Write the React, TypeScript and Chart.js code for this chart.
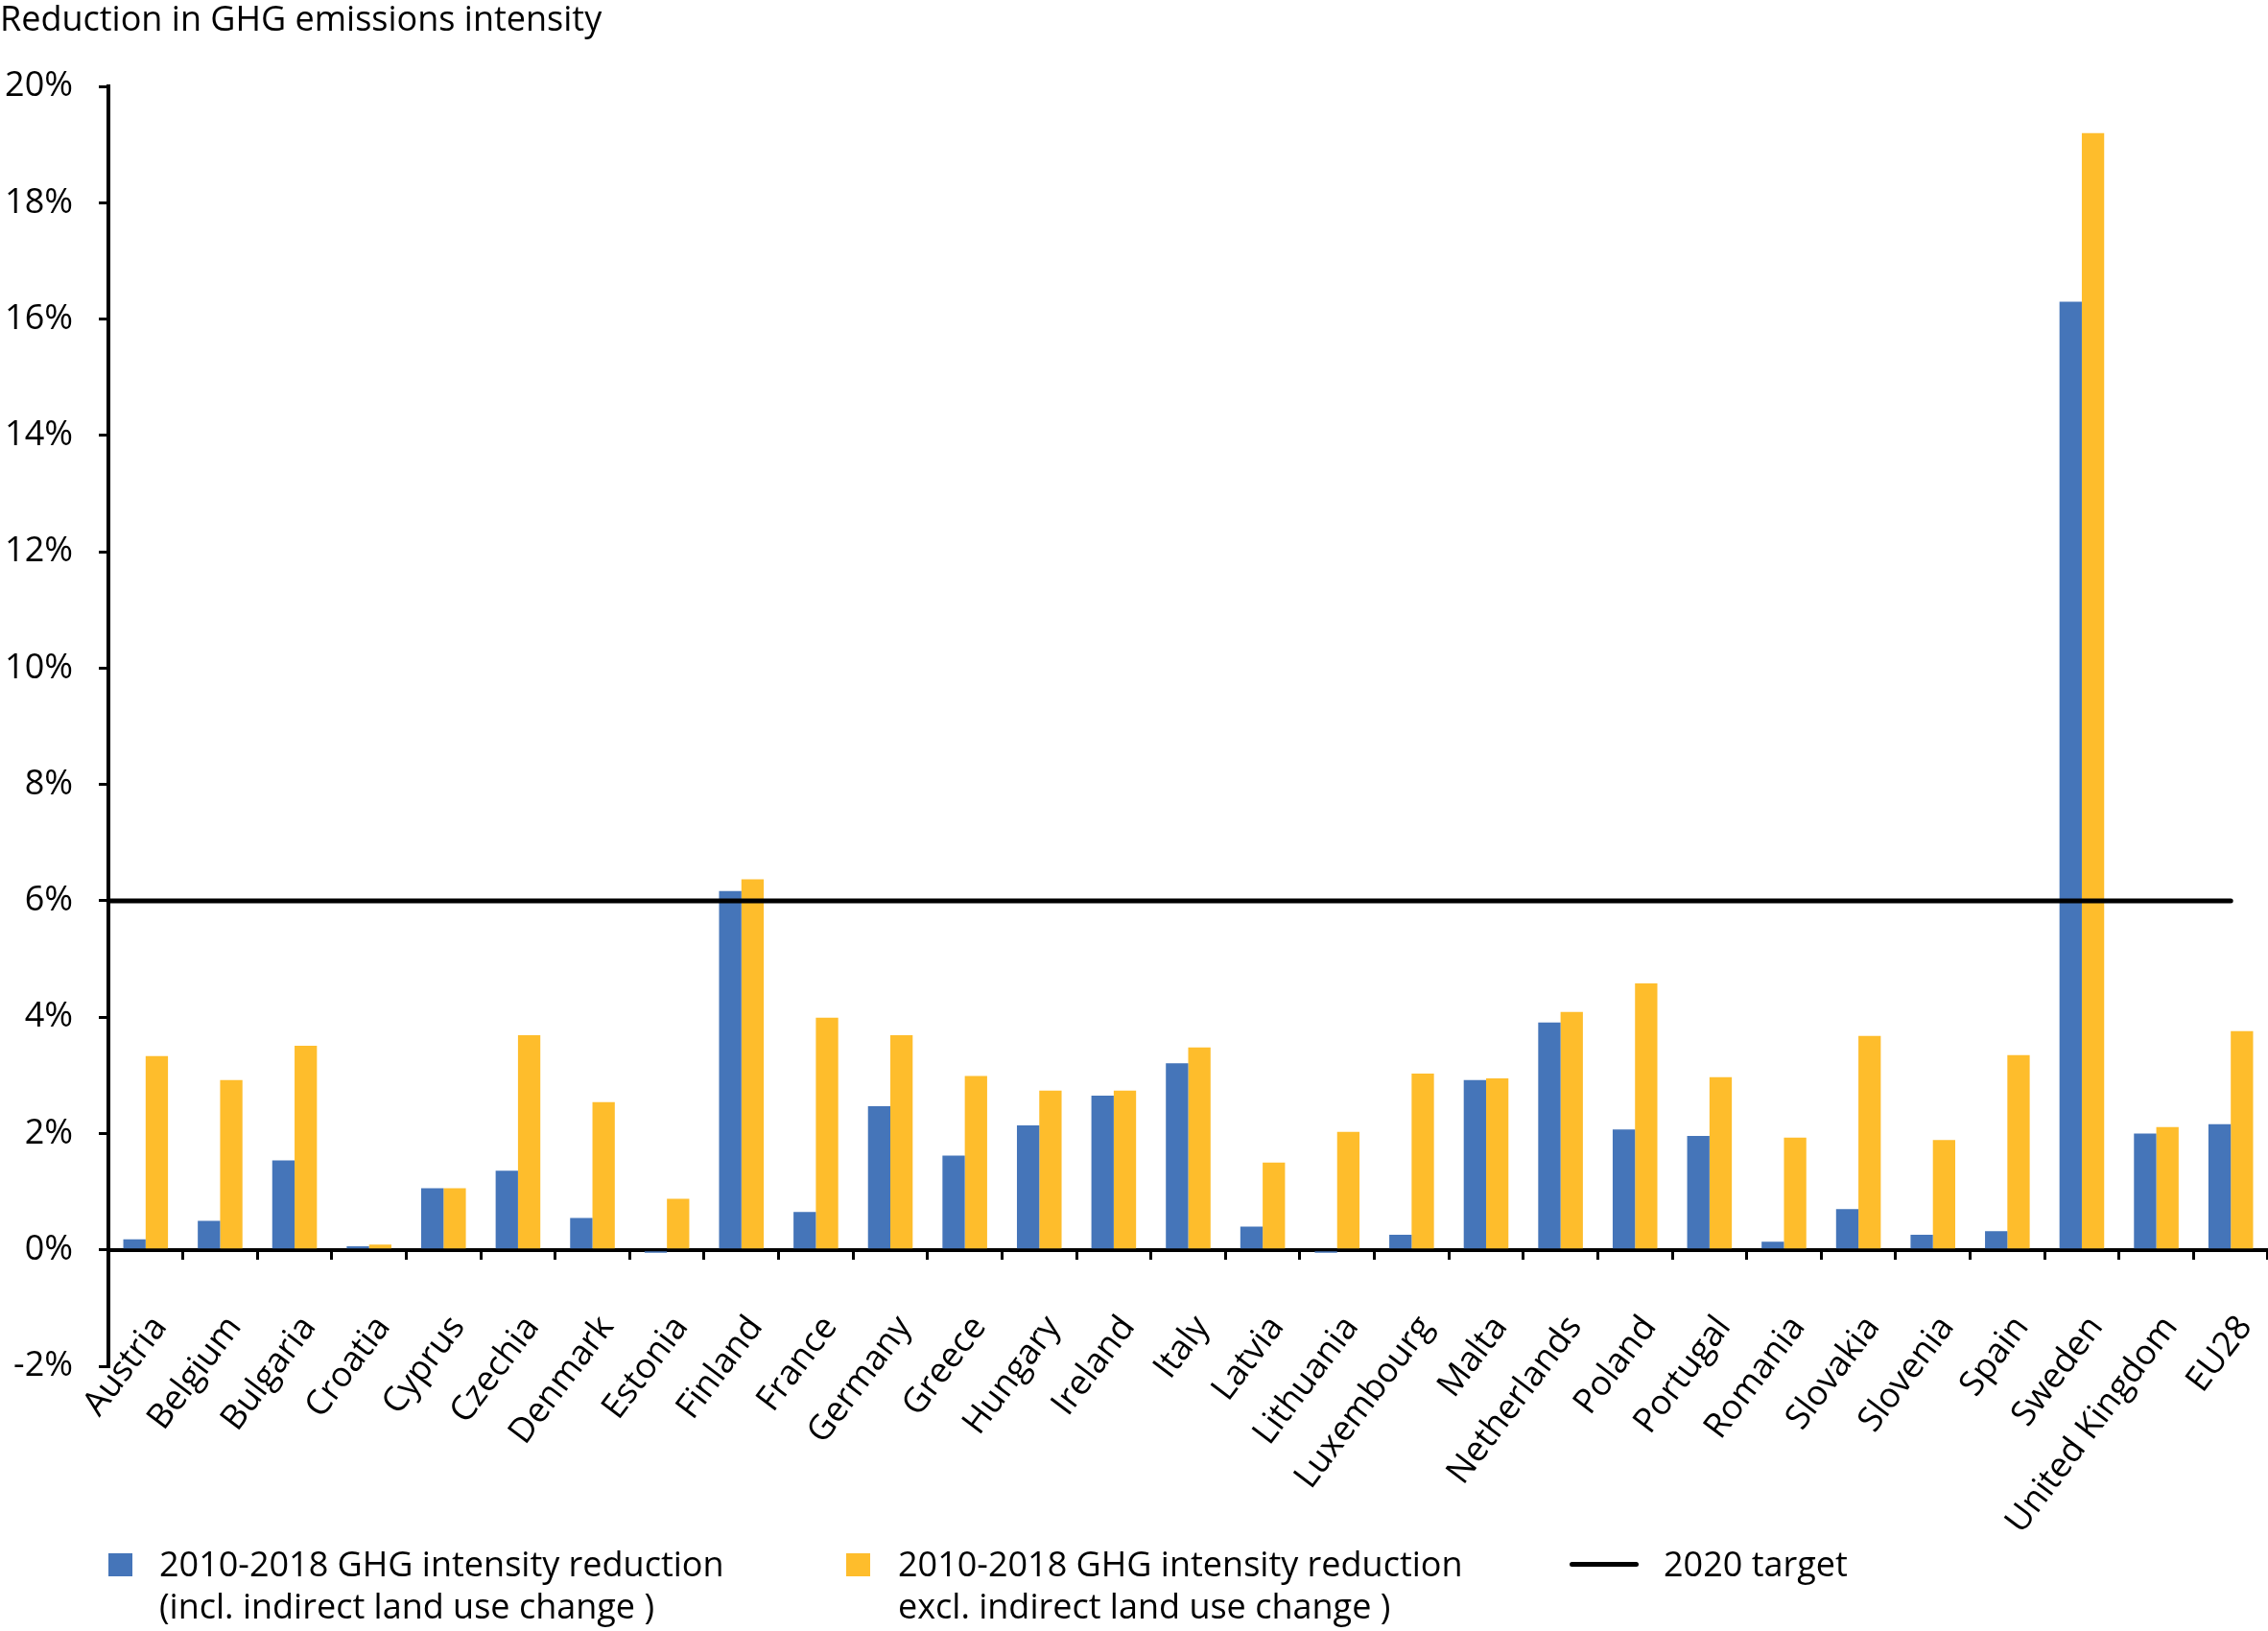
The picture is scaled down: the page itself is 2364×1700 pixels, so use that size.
import React, { useEffect, useRef } from "react";
import { Chart, registerables } from "chart.js";

Chart.register(...registerables);

const CATEGORIES = [
  "Austria", "Belgium", "Bulgaria", "Croatia", "Cyprus", "Czechia", "Denmark", "Estonia",
  "Finland", "France", "Germany", "Greece", "Hungary", "Ireland", "Italy", "Latvia",
  "Lithuania", "Luxembourg", "Malta", "Netherlands", "Poland", "Portugal", "Romania",
  "Slovakia", "Slovenia", "Spain", "Sweden", "United Kingdom", "EU28",
];

const INCL_ILUC = [
  0.18, 0.5, 1.54, 0.06, 1.06, 1.36, 0.55, -0.05, 6.17, 0.65, 2.47, 1.62, 2.14, 2.65, 3.21,
  0.4, -0.05, 0.26, 2.92, 3.91, 2.07, 1.96, 0.14, 0.7, 0.26, 0.32, 16.3, 2.0, 2.16,
];

const EXCL_ILUC = [
  3.33, 2.92, 3.51, 0.09, 1.06, 3.69, 2.54, 0.88, 6.37, 3.99, 3.69, 2.99, 2.74, 2.74, 3.48,
  1.5, 2.03, 3.03, 2.95, 4.09, 4.58, 2.97, 1.93, 3.68, 1.89, 3.35, 19.2, 2.11, 3.76,
];

const TARGET_2020 = 6;

const Y_MIN = -2;
const Y_MAX = 20;
const Y_STEP = 2;

const TITLE = "Reduction in GHG emissions intensity";
const SERIES_LABELS = [
  ["2010-2018 GHG intensity reduction", "(incl. indirect land use change )"],
  ["2010-2018 GHG intensity reduction", "excl. indirect land use change )"],
  ["2020 target"],
];

const BLUE = "#4575b9";
const YELLOW = "#febd2c";
const FONT = "'Open Sans', 'Noto Sans', sans-serif";

// Draws the 2020 target as a horizontal rule through the chart's own scales:
// from the value axis to the centre of the last category.
const targetLinePlugin = {
  id: "targetLine",
  afterDatasetsDraw(chart: any) {
    const { ctx, chartArea, scales } = chart;
    const y = scales.y.getPixelForValue(TARGET_2020);
    const xEnd = scales.x.getPixelForValue(CATEGORIES.length - 1);
    ctx.save();
    ctx.strokeStyle = "#000";
    ctx.lineWidth = 5;
    ctx.lineCap = "round";
    ctx.beginPath();
    ctx.moveTo(chartArea.left, y);
    ctx.lineTo(xEnd, y);
    ctx.stroke();
    ctx.restore();
  },
};

export default function App() {
  const canvasRef = useRef<HTMLCanvasElement | null>(null);

  useEffect(() => {
    document.body.style.margin = "0";
    const canvas = canvasRef.current;
    if (!canvas) return;
    Chart.defaults.font.family = FONT;
    Chart.defaults.color = "#000";

    const chart = new Chart(canvas, {
      type: "bar",
      data: {
        labels: CATEGORIES,
        datasets: [
          {
            label: SERIES_LABELS[0].join(" "),
            data: INCL_ILUC,
            backgroundColor: BLUE,
            borderWidth: 0,
            categoryPercentage: 0.6,
            barPercentage: 1.0,
          },
          {
            label: SERIES_LABELS[1].join(" "),
            data: EXCL_ILUC,
            backgroundColor: YELLOW,
            borderWidth: 0,
            categoryPercentage: 0.6,
            barPercentage: 1.0,
          },
        ],
      },
      plugins: [targetLinePlugin],
      options: {
        animation: false,
        responsive: true,
        maintainAspectRatio: false,
        layout: { padding: { left: 0, right: 0, top: 0, bottom: 276 } },
        plugins: {
          legend: { display: false },
          tooltip: { enabled: false },
          title: {
            display: true,
            text: TITLE,
            align: "start",
            color: "#000",
            font: { size: 36, weight: "normal", family: FONT },
            padding: { top: 0, bottom: 47 },
          },
        },
        scales: {
          x: {
            type: "category",
            position: { y: 0 } as any,
            offset: true,
            grid: {
              offset: true,
              drawOnChartArea: false,
              drawTicks: true,
              tickLength: 8,
              tickWidth: 3,
              color: "#000",
              lineWidth: 3,
            },
            border: { display: true, color: "#000", width: 4 },
            ticks: {
              autoSkip: false,
              minRotation: 53,
              maxRotation: 53,
              padding: 53,
              labelOffset: 15,
              color: "#000",
              font: { size: 36, family: FONT },
            },
            afterFit: (scale: any) => {
              scale.paddingRight = 0;
            },
          },
          y: {
            type: "linear",
            position: "left",
            min: Y_MIN,
            max: Y_MAX,
            grid: {
              drawOnChartArea: false,
              drawTicks: true,
              tickLength: 10,
              tickWidth: 3,
              color: "#000",
              lineWidth: 3,
            },
            border: { display: true, color: "#000", width: 4 },
            ticks: {
              stepSize: Y_STEP,
              padding: 27,
              color: "#000",
              font: { size: 36, family: FONT },
              callback: (v: any) => `${v}%`,
            },
            afterFit: (scale: any) => {
              scale.width = 113;
            },
          },
        },
      },
    });

    return () => chart.destroy();
  }, []);

  const textStyle: React.CSSProperties = {
    position: "absolute",
    top: 1608,
    fontFamily: FONT,
    fontSize: 36,
    lineHeight: "44px",
    color: "#000",
    whiteSpace: "nowrap",
  };

  return (
    <div style={{ position: "relative", width: 2364, height: 1700, background: "#fff" }}>
      <canvas ref={canvasRef} />
      <div style={{ position: "absolute", left: 113, top: 1619, width: 25, height: 24, background: BLUE }} />
      <div style={{ ...textStyle, left: 166 }}>
        {SERIES_LABELS[0].map((t, i) => (
          <div key={i}>{t}</div>
        ))}
      </div>
      <div style={{ position: "absolute", left: 882, top: 1619, width: 25, height: 24, background: YELLOW }} />
      <div style={{ ...textStyle, left: 936 }}>
        {SERIES_LABELS[1].map((t, i) => (
          <div key={i}>{t}</div>
        ))}
      </div>
      <div style={{ position: "absolute", left: 1636, top: 1628, width: 72, height: 5, borderRadius: 3, background: "#000" }} />
      <div style={{ ...textStyle, left: 1734 }}>
        {SERIES_LABELS[2].map((t, i) => (
          <div key={i}>{t}</div>
        ))}
      </div>
    </div>
  );
}
